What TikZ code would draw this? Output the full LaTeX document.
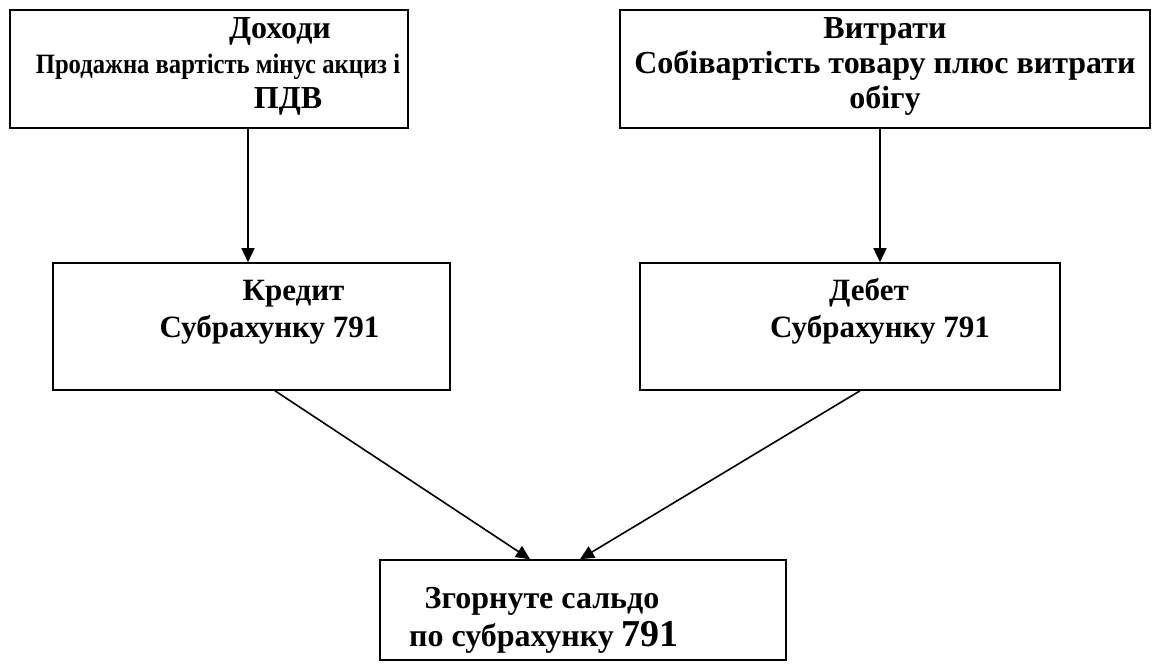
\documentclass[tikz,border=0pt]{standalone}
\usepackage{fontspec}
\setmainfont{Liberation Serif}
\usetikzlibrary{arrows.meta}

\tikzset{
  box/.style={draw, line width=1.6pt, rectangle, inner sep=0pt},
  bigtext/.style={align=center, inner sep=0pt, font=\fontsize{32}{35}\selectfont\bfseries},
  midtext/.style={align=center, inner sep=0pt, font=\fontsize{31}{37}\selectfont\bfseries},
  link/.style={line width=1.6pt, -{Triangle[length=14pt, width=13pt]}}
}

\begin{document}
\begin{tikzpicture}[x=1pt, y=-1pt]
      \useasboundingbox (0,0) rectangle (1162,671);
      % top row
      \node[box, minimum width=398pt, minimum height=118pt] (dokhody) at (209,69) {};
      \node[bigtext] (dokhody-txt) at ([yshift=2pt]dokhody.center)
        {\begin{tabular}{@{}c@{}}\hspace*{142pt}Доходи\\
         \hspace*{18pt}\scalebox{0.88}[1]{\fontsize{28}{35}\selectfont Продажна вартість мінус акциз і}\\
         \hspace*{158pt}ПДВ\end{tabular}};
      \node[box, minimum width=530pt, minimum height=118pt] (vytraty) at (885,69) {};
      \node[bigtext] (vytraty-txt) at ([yshift=2pt]vytraty.center)
        {\begin{tabular}{@{}c@{}}Витрати\\Собівартість товару плюс витрати\\обігу\end{tabular}};
      % middle row
      \node[box, minimum width=397pt, minimum height=127pt] (kredyt) at (251.5,326.5) {};
      \node[midtext] (kredyt-txt) at ([yshift=15pt]kredyt.center)
        {\begin{tabular}{@{}c@{}}\hspace*{84pt}Кредит\\\hspace*{36pt}Субрахунку 791\end{tabular}};
      \node[box, minimum width=420pt, minimum height=127pt] (debet) at (850,326.5) {};
      \node[midtext] (debet-txt) at ([yshift=15pt]debet.center)
        {\begin{tabular}{@{}c@{}}\hspace*{38pt}Дебет\\\hspace*{60pt}Субрахунку 791\end{tabular}};
      % result
      \node[box, minimum width=406pt, minimum height=100pt] (saldo) at (583,610) {};
      \node[bigtext, font=\fontsize{32}{38}\selectfont\bfseries] (saldo-txt) at ([yshift=-10pt]saldo.center)
        {\begin{tabular}{@{}c@{}}Згорнуте сальдо\hspace*{82pt}\\
         по субрахунку {\fontsize{38}{38}\selectfont 791}\hspace*{78pt}\end{tabular}};
      % arrows
      \draw[link] ([xshift=39pt]dokhody.south) -- ([xshift=-3.5pt]kredyt.north);
      \draw[link] ([xshift=-5pt]vytraty.south) -- ([xshift=30pt]debet.north);
      \draw[link] ([xshift=23.5pt]kredyt.south) -- ([xshift=-53pt]saldo.north);
      \draw[link] ([xshift=10pt]debet.south) -- ([xshift=-3pt]saldo.north);
\end{tikzpicture}
\end{document}
